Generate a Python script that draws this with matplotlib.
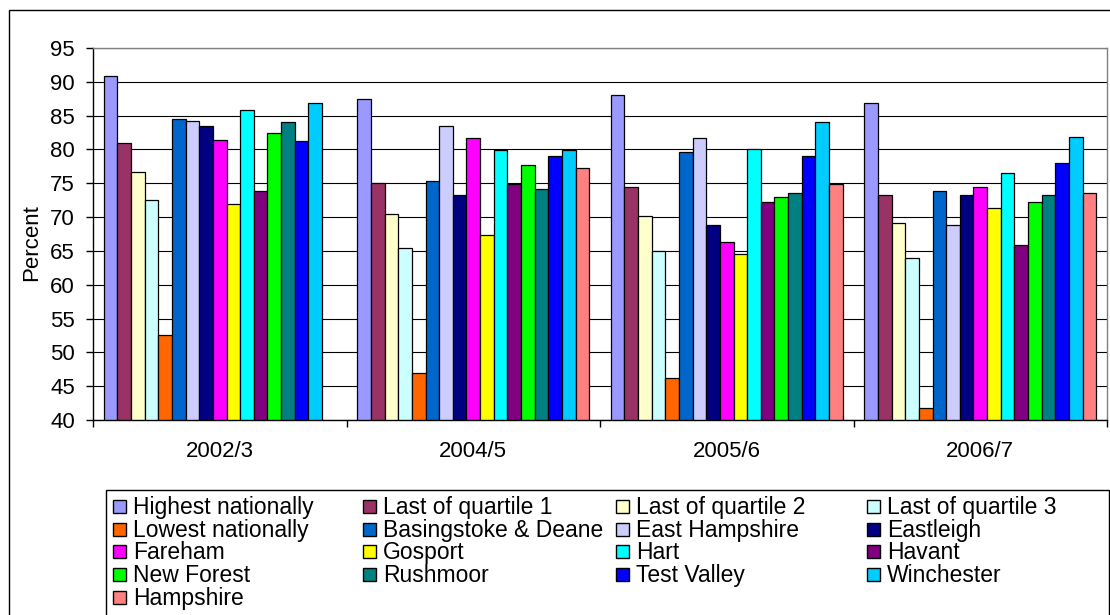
import numpy as np
import matplotlib
matplotlib.use('Agg')
import matplotlib.pyplot as plt
from matplotlib.patches import Rectangle

plt.rcParams['font.family'] = 'Liberation Sans'
plt.rcParams['font.size'] = 16

years = ['2002/3', '2004/5', '2005/6', '2006/7']

highest_nationally = [90.8, 87.4, 88.0, 86.8]
last_of_quartile_1 = [80.9, 75.1, 74.4, 73.3]
last_of_quartile_2 = [76.7, 70.4, 70.2, 69.2]
last_of_quartile_3 = [72.6, 65.5, 65.0, 63.9]
lowest_nationally = [52.5, 46.9, 46.2, 41.8]
basingstoke_deane = [84.5, 75.4, 79.6, 73.8]
east_hampshire = [84.2, 83.5, 81.7, 68.9]
eastleigh = [83.5, 73.3, 68.9, 73.3]
fareham = [81.4, 81.7, 66.3, 74.4]
gosport = [72.0, 67.3, 64.5, 71.3]
hart = [85.8, 79.9, 80.1, 76.5]
havant = [73.8, 74.9, 72.3, 65.8]
new_forest = [82.5, 77.7, 72.9, 72.3]
rushmoor = [84.0, 74.1, 73.6, 73.3]
test_valley = [81.2, 79.1, 79.1, 78.0]
winchester = [86.8, 79.9, 84.0, 81.9]
hampshire = [np.nan, 77.2, 74.9, 73.6]

series = [
    ('Highest nationally', highest_nationally, '#9999FF'),
    ('Last of quartile 1', last_of_quartile_1, '#993366'),
    ('Last of quartile 2', last_of_quartile_2, '#FFFFCC'),
    ('Last of quartile 3', last_of_quartile_3, '#CCFFFF'),
    ('Lowest nationally', lowest_nationally, '#FF6600'),
    ('Basingstoke & Deane', basingstoke_deane, '#0066CC'),
    ('East Hampshire', east_hampshire, '#CCCCFF'),
    ('Eastleigh', eastleigh, '#000080'),
    ('Fareham', fareham, '#FF00FF'),
    ('Gosport', gosport, '#FFFF00'),
    ('Hart', hart, '#00FFFF'),
    ('Havant', havant, '#800080'),
    ('New Forest', new_forest, '#00FF00'),
    ('Rushmoor', rushmoor, '#008080'),
    ('Test Valley', test_valley, '#0000FF'),
    ('Winchester', winchester, '#00CCFF'),
    ('Hampshire', hampshire, '#FF8080'),
]

W, H = 1110, 615


def fx(px):
    return px / W


def fy(py):
    return 1 - py / H


fig = plt.figure(figsize=(W / 100, H / 100), dpi=100)
ax = fig.add_axes([fx(93), fy(420), fx(1107) - fx(93), fy(48) - fy(420)])

x = np.arange(len(years))
n = len(series)
width = 0.0538
for i, (name, vals, color) in enumerate(series):
    ax.bar(x + (i - (n - 1) / 2) * width, vals, width, color=color,
           edgecolor='black', linewidth=0.9, zorder=2)

ax.set_xlim(-0.5, len(years) - 0.5)
ax.set_ylim(40, 95)
ax.set_yticks(np.arange(40, 96, 5))
ax.yaxis.grid(True, color='black', linewidth=0.8, zorder=0)
ax.set_axisbelow(True)

ax.set_xticks(x, years)
ax.set_xticks(np.arange(-0.5, len(years)), minor=True)
ax.tick_params(axis='x', which='major', length=0, pad=15)
ax.tick_params(axis='x', which='minor', length=5, width=1, direction='out')
ax.tick_params(axis='y', length=5, width=1, pad=8)

for side in ['top', 'right']:
    ax.spines[side].set_color('#808080')
for side in ['left', 'bottom']:
    ax.spines[side].set_color('black')
for sp in ax.spines.values():
    sp.set_linewidth(1)

ax.set_ylabel('Percent', va='center')
ax.yaxis.set_label_coords(-0.061, 0.476)

# chart frame and legend frame (both run off the right/bottom edges)
fig.add_artist(Rectangle((fx(9), -0.2), 1.2, fy(10) + 0.2, transform=fig.transFigure,
                         fill=False, edgecolor='black', linewidth=1))
fig.add_artist(Rectangle((fx(106), -0.2), fx(1109) - fx(106), fy(490) + 0.2,
                         transform=fig.transFigure, fill=False, edgecolor='black', linewidth=1))

# legend laid out row by row, four columns
col_x = [113, 363, 616, 867]
row0, row_step = 506.7, 22.6
box = 13
for i, (name, vals, color) in enumerate(series):
    r, c = divmod(i, 4)
    cx = col_x[c]
    cy = row0 + r * row_step
    fig.add_artist(Rectangle((fx(cx), fy(cy + box / 2)), box / W, box / H,
                             transform=fig.transFigure, facecolor=color,
                             edgecolor='black', linewidth=1))
    fig.text(fx(cx + 20), fy(cy + 7.5), name, ha='left', va='baseline', fontsize=16.5)

fig.savefig('out.png', dpi=100)
